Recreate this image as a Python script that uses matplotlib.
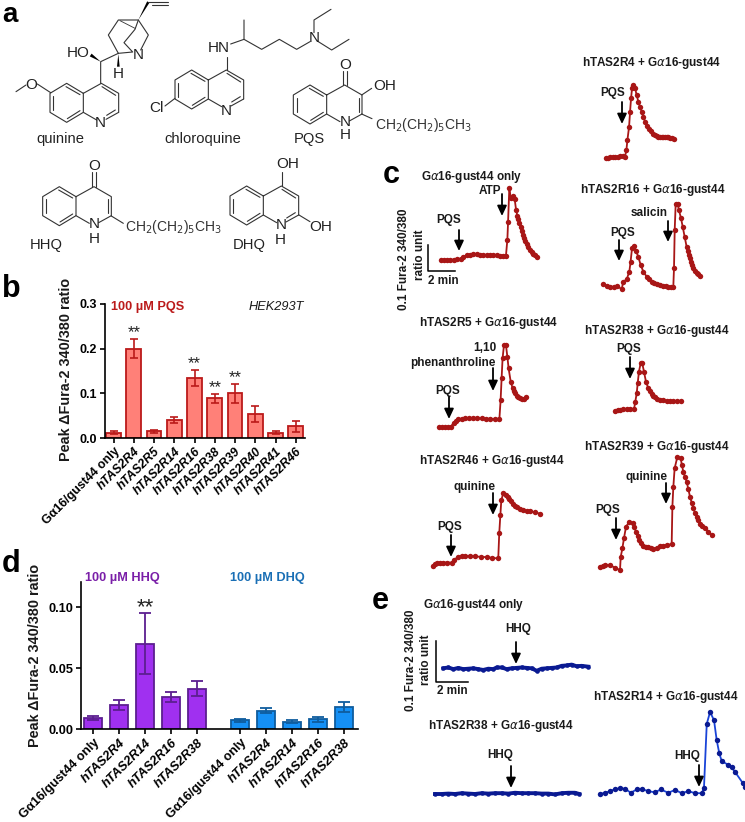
import matplotlib
matplotlib.use('Agg')
import matplotlib.pyplot as plt

plt.rcParams['font.family'] = ['Liberation Sans', 'DejaVu Sans']
plt.rcParams['mathtext.fontset'] = 'dejavusans'

W, H = 745, 822

# panel b
b_labels = ['G\u03b116/gust44 only', 'hTAS2R4', 'hTAS2R5', 'hTAS2R14', 'hTAS2R16',
            'hTAS2R38', 'hTAS2R39', 'hTAS2R40', 'hTAS2R41', 'hTAS2R46']
b_vals = [0.012, 0.200, 0.015, 0.040, 0.135, 0.089, 0.100, 0.054, 0.012, 0.026]
b_errs = [0.003, 0.022, 0.003, 0.006, 0.018, 0.010, 0.022, 0.018, 0.003, 0.012]
b_stars = ['', '**', '', '', '**', '**', '**', '', '', '']

# panel d
d_labels = ['G\u03b116/gust44 only', 'hTAS2R4', 'hTAS2R14', 'hTAS2R16', 'hTAS2R38']
hhq_vals = [0.009, 0.0195, 0.070, 0.026, 0.033]
hhq_errs = [0.002, 0.004, 0.025, 0.004, 0.006]
dhq_vals = [0.007, 0.015, 0.006, 0.008, 0.018]
dhq_errs = [0.001, 0.002, 0.001, 0.002, 0.004]

# panel c traces: time in min, ratio relative to first point
only_t = [0, .2, .4, .65, .9, 1.15, 1.43, 1.6, 1.88, 2.1, 2.31, 2.55, 2.79, 3.0, 3.26, 3.5, 3.74, 4.0, 4.21, 4.45, 4.64,
          4.74, 4.79, 4.88, 4.98, 5.12, 5.26, 5.36, 5.45, 5.52, 5.6, 5.68, 5.76, 5.85, 5.93, 6.02, 6.12, 6.24, 6.36, 6.48, 6.6, 6.74, 6.88]
only_r = [0, 0, 0, .001, .001, .002, .003, .012, .019, .021, .022, .022, .021, .02, .019, .019, .018, .018, .017, .017, .017,
          .078, .145, .277, .238, .247, .235, .194, .171, .157, .142, .126, .11, .097, .085, .074, .063, .051, .04, .032, .024, .018, .012]

r4_t = [0, .15, .31, .5, .67, .85, 1.02, 1.2, 1.38, 1.48, 1.55, 1.67, 1.74, 1.81, 1.88, 1.98, 2.1, 2.21, 2.33, 2.45, 2.57,
        2.69, 2.81, 2.93, 3.07, 3.21, 3.4, 3.52, 3.64, 3.76, 3.88, 4.0, 4.12, 4.24, 4.36, 4.48, 4.6, 4.74, 4.88]
r4_r = [0, .001, .003, .004, .005, .005, .006, .006, .005, .031, .069, .12, .178, .229, .268, .281, .268, .242, .217, .197, .178,
        .159, .14, .123, .113, .103, .092, .088, .085, .082, .079, .08, .081, .081, .081, .079, .077, .075, .074]

r16_t = [0, .24, .48, .79, 1.0, 1.31, 1.43, 1.67, 1.86, 1.95, 2.05, 2.19, 2.33, 2.5, 2.67, 2.86, 3.1, 3.28, 3.45, 3.63, 3.81, 4.05, 4.29, 4.46, 4.64, 4.82, 5.0,
         5.05, 5.1, 5.17, 5.31, 5.4, 5.55, 5.67, 5.81, 5.95, 6.02, 6.1, 6.17, 6.24, 6.33, 6.43, 6.55, 6.67, 6.78, 6.9]
r16_r = [0, -.006, -.012, -.01, -.006, -.019, .01, .019, .049, .087, .138, .147, .129, .106, .074, .049, .029, .019, .01, .005, 0, -.003, -.005, -.007, -.009, -.01, -.01,
         .062, .209, .309, .309, .286, .254, .222, .183, .145, .129, .113, .1, .087, .074, .062, .053, .045, .038, .032]

r5_t = [0, .2, .4, .6, .81, 1.05, 1.2, 1.36, 1.6, 1.83, 2.13, 2.43, 2.72, 3.02, 3.32, 3.62, 3.95, 4.29, 4.38, 4.45, 4.52, 4.62, 4.76,
        4.86, 4.95, 5.1, 5.24, 5.32, 5.4, 5.52, 5.64, 5.76, 5.88, 6.02, 6.17]
r5_r = [0, 0, 0, .001, .001, .017, .024, .029, .031, .033, .034, .035, .034, .033, .032, .031, .03, .029, .104, .187, .264, .315, .315,
        .271, .226, .174, .149, .138, .129, .121, .114, .11, .108, .109, .114]

r38_t = [0, .18, .36, .6, .83, 1.1, 1.36, 1.45, 1.55, 1.62, 1.71, 1.83, 1.95, 2.07, 2.21, 2.38, 2.5, 2.62, 2.74, 2.86, 3.03, 3.21, 3.45, 3.69, 3.93, 4.17, 4.43, 4.69]
r38_r = [0, .002, .004, .005, .006, .006, .006, .035, .067, .105, .15, .182, .182, .15, .112, .086, .074, .064, .057, .051, .046, .042, .04, .038, .037, .037, .037, .037]

r46_t = [0, .14, .29, .5, .71, 1.0, 1.31, 1.48, 1.79, 2.02, 2.26, 2.62, 2.98, 3.4, 3.81, 4.22, 4.64, 4.71, 4.79, 4.86, 5.0, 5.19, 5.31, 5.43, 5.57, 5.71, 5.85, 6.0, 6.2, 6.43, 6.66, 6.9, 7.26, 7.62]
r46_r = [0, .005, .009, .011, .012, .012, .012, .022, .035, .037, .038, .037, .036, .034, .033, .03, .028, .124, .195, .253, .278, .272, .265, .256, .247, .237, .23, .224, .219, .214, .212, .21, .205, .2]

r39_t = [0, .18, .36, .71, 1.07, 1.43, 1.48, 1.6, 1.71, 1.86, 2.1, 2.33, 2.45, 2.57, 2.69, 2.81, 2.95, 3.1, 3.27, 3.45, 3.63, 3.81, 4.05, 4.29, 4.52, 4.76, 5.12,
         5.17, 5.24, 5.33, 5.52, 5.76, 5.85, 5.95, 6.07, 6.19, 6.31, 6.43, 6.55, 6.67, 6.78, 6.9, 7.02, 7.14, 7.32, 7.5, 7.74, 7.98]
r39_r = [0, .003, .006, .006, -.004, -.013, .038, .071, .109, .154, .173, .167, .151, .135, .119, .103, .092, .081, .077, .074, .071, .068, .073, .079, .081, .083, .087,
         .231, .308, .378, .421, .417, .391, .365, .346, .327, .298, .269, .246, .224, .208, .192, .178, .164, .155, .147, .134, .122]

# panel e traces
e_only_t = [0, .3, .61, .91, 1.21, 1.52, 1.82, 2.12, 2.42, 2.73, 3.03, 3.23, 3.54, 3.84, 4.14, 4.44, 4.75, 5.05, 5.35, 5.66, 5.96, 6.26, 6.57, 6.87, 7.17, 7.47, 7.78, 8.08, 8.38, 8.79]
e_only_r = [0, .002, -.002, .001, -.002, -.001, 0, -.002, -.004, -.001, -.002, .002, .002, -.002, 0, .001, .002, .001, 0, -.006, -.001, 0, .001, .002, .006, .007, .009, .005, .006, .004]

e_r38_t = [0, .4, .81, 1.21, 1.62, 2.02, 2.42, 2.83, 3.23, 3.64, 4.04, 4.44, 4.85, 5.25, 5.66, 6.06, 6.46, 6.87, 7.27, 7.68, 8.08, 8.48, 8.75]
e_r38_r = [0, 0, .001, 0, .002, .001, 0, .002, .001, .002, .002, .001, .003, .002, .002, .002, .001, .001, -.001, .002, .003, .003, 0]

e_r14_t = [0, .3, .61, .91, 1.21, 1.52, 1.86, 2.22, 2.53, 2.93, 3.33, 3.68, 4.14, 4.55, 4.95, 5.35, 5.76, 6.16, 6.3,
           6.47, 6.67, 6.91, 7.07, 7.23, 7.38, 7.78, 7.98, 8.18, 8.65, 8.8]
e_r14_r = [0, .003, .007, .012, .014, .013, .003, .011, .012, .007, .004, .011, .003, .01, .002, .007, .002, .002, .014,
           .171, .2, .18, .132, .099, .08, .071, .065, .054, .027, .018]

DRED = '#a81616'
NAVY = '#0a1a92'
BRIGHT = '#1a44d8'


def px_axes(x0, y_bottom, x1, y_top):
    return fig.add_axes([x0 / W, 1 - y_bottom / H, (x1 - x0) / W, (y_bottom - y_top) / H])


def bar_axes(ax, ylim, yticks, fmt, lw, tick_fs):
    ax.set_ylim(*ylim)
    ax.set_yticks(yticks)
    ax.set_yticklabels([fmt % v for v in yticks], fontsize=tick_fs, fontweight='bold')
    ax.spines['top'].set_visible(False)
    ax.spines['right'].set_visible(False)
    ax.spines['left'].set_linewidth(lw)
    ax.spines['bottom'].set_linewidth(lw)
    ax.tick_params(width=lw, length=3.5, pad=2)
    ax.patch.set_alpha(0)


def x_labels(ax, xs, labels, fs):
    ax.set_xticks(xs)
    ax.set_xticklabels(labels, rotation=45, ha='right', rotation_mode='anchor', fontsize=fs, fontweight='bold')
    for t in ax.get_xticklabels():
        if t.get_text().startswith('hTAS'):
            t.set_fontstyle('italic')


def trace(x0, y0, t, r, px_min, px_unit, mcolor, lcolor, ms=3.9, lw=1.3):
    # every trace gets its own little axes so the time/ratio scale is shared
    ax = px_axes(x0, y0 + 30, x0 + 190, y0 - 130)
    ax.set_xlim(0, 190 / px_min)
    ax.set_ylim(-30 / px_unit, 130 / px_unit)
    ax.axis('off')
    ax.plot(t, r, '-', color=lcolor, lw=lw, clip_on=False, zorder=2)
    ax.plot(t, r, 'o', color=mcolor, ms=ms, mew=0, clip_on=False, zorder=3)


fig = plt.figure(figsize=(W / 100, H / 100), dpi=100)
fig.patch.set_facecolor('white')

# b ------------------------------------------------------------
b_step = 20.25
ax_b = px_axes(105, 438, 305, 304)
b_x = list(range(len(b_vals)))
ax_b.bar(b_x, b_vals, width=0.72, color='#ff8078', edgecolor='#bb1a1a', linewidth=1.3)
ax_b.errorbar(b_x, b_vals, yerr=b_errs, fmt='none', ecolor='#bb1a1a', elinewidth=1.2, capsize=3.2, capthick=1.2)
ax_b.set_xlim(-8.5 / b_step, 191.5 / b_step)
bar_axes(ax_b, (0, 0.3), [0, 0.1, 0.2, 0.3], '%.1f', 1.2, 9)
x_labels(ax_b, b_x, b_labels, 8.9)
for x, v, e, s in zip(b_x, b_vals, b_errs, b_stars):
    if s:
        ax_b.annotate(s, (x, v + e), xytext=(0, -1), textcoords='offset points', ha='center', va='bottom',
                      fontsize=12, color='#222222')

# d ------------------------------------------------------------
d_step = 26
d_gap = 0.65
ax_d = px_axes(81, 729, 358, 582)
hhq_x = list(range(len(hhq_vals)))
dhq_x = [len(hhq_vals) + d_gap + i for i in range(len(dhq_vals))]
ax_d.bar(hhq_x, hhq_vals, width=0.7, color='#a030f0', edgecolor='#5c1f90', linewidth=1.3)
ax_d.errorbar(hhq_x, hhq_vals, yerr=hhq_errs, fmt='none', ecolor='#5c1f90', elinewidth=1.3, capsize=4.3, capthick=1.3)
ax_d.bar(dhq_x, dhq_vals, width=0.7, color='#1590f5', edgecolor='#0f5d9e', linewidth=1.3)
ax_d.errorbar(dhq_x, dhq_vals, yerr=dhq_errs, fmt='none', ecolor='#0f5d9e', elinewidth=1.3, capsize=4.3, capthick=1.3)
ax_d.set_xlim(-12.3 / d_step, 264.7 / d_step)
bar_axes(ax_d, (0, 0.1205), [0, 0.05, 0.10], '%.2f', 1.2, 9.2)
x_labels(ax_d, hhq_x + dhq_x, d_labels + d_labels, 9.3)
ax_d.annotate('**', (2, hhq_vals[2] + hhq_errs[2]), xytext=(0, -4), textcoords='offset points', ha='center', va='bottom',
              fontsize=16, color='#222222')

# overlay in image pixels for the chemistry, captions, arrows
ov = fig.add_axes([0, 0, 1, 1], zorder=5)
ov.set_xlim(0, W)
ov.set_ylim(H, 0)
ov.axis('off')


def label(x, y, s, fs=8.5, weight='bold', color='#1a1a1a', **kw):
    ov.text(x, y, s, fontsize=fs, fontweight=weight, color=color, ha=kw.pop('ha', 'center'), va=kw.pop('va', 'center'), **kw)


def bond(*pts, lw=0.8, color='#333333'):
    ov.plot([p[0] / 3 for p in pts], [p[1] / 3 for p in pts], color=color, lw=lw, solid_capstyle='round')


def wedge(a, b, w=5):
    dx, dy = b[0] - a[0], b[1] - a[1]
    n = (dx * dx + dy * dy) ** 0.5
    ox, oy = -dy / n * w, dx / n * w
    ov.fill([a[0] / 3, (b[0] + ox) / 3, (b[0] - ox) / 3], [a[1] / 3, (b[1] + oy) / 3, (b[1] - oy) / 3], color='black', lw=0)


def atom(zx, zy, s, fs=11):
    ov.text(zx / 3, zy / 3, s, fontsize=fs, color='#222222', ha='center', va='center')


def quinoline(tx, ty, n_double=True):
    # tx, ty: top vertex of the benzene ring, in 3x zoom units
    tl = (tx - 50, ty + 30)
    bl = (tx - 50, ty + 87)
    bt = (tx, ty + 117)
    br = (tx + 50, ty + 87)
    tr = (tx + 50, ty + 30)
    rt = (tx + 104, ty)
    ru = (tx + 156, ty + 30)
    rd = (tx + 156, ty + 87)
    bond(tr, (tx, ty), tl, bl, bt, br, tr, rt, ru, rd)
    bond((tx - 40, ty + 38), (tx - 40, ty + 80))
    bond((tx - 2, ty + 10), (tx + 40, ty + 34))
    bond((tx + 2, ty + 106), (tx + 40, ty + 82))
    bond(br, (tx + 90, ty + 110))
    bond(rd, (tx + 118, ty + 108))
    if n_double:
        bond((tx + 106, ty + 10), (tx + 147, ty + 36))
        bond((tx + 146, ty + 80), (tx + 120, ty + 96))
    else:
        bond((tx + 146, ty + 38), (tx + 146, ty + 80))


# quinine
quinoline(200, 250)
bond((302, 250), (302, 185), (355, 160))
wedge((302, 185), (272, 165))
wedge((355, 162), (355, 200), w=-4)
bond((355, 160), (325, 105), (355, 60), (415, 60), (445, 105), (422, 150))
bond((355, 160), (398, 156), (372, 128), (405, 88), (415, 60))
bond((360, 62), (405, 85), lw=0.6)
wedge((415, 60), (445, 6), w=-4)
bond((445, 5), (505, 5))
bond((455, 16), (505, 16))
bond((112, 252), (152, 278))
bond((78, 255), (48, 275))
atom(95, 255, 'O')
atom(235, 160, 'HO')
atom(415, 165, 'N')
atom(355, 222, 'H')
atom(302, 368, 'N')
# chloroquine
quinoline(575, 210)
bond((680, 210), (680, 170))
bond((692, 132), (732, 118), (732, 60))
bond((732, 118), (785, 148), (838, 118), (890, 148), (930, 125))
bond((942, 98), (942, 60), (993, 28))
bond((955, 125), (995, 150), (1047, 118))
bond((495, 318), (525, 295))
atom(657, 145, 'HN')
atom(942, 115, 'N')
atom(470, 325, 'Cl')
atom(680, 332, 'N')
# PQS
quinoline(930, 255, n_double=False)
bond((1030, 255), (1030, 212))
bond((1040, 255), (1040, 212))
bond((1085, 285), (1115, 265))
bond((1085, 342), (1116, 356))
atom(1035, 195, 'O')
atom(1035, 367, 'N')
atom(1035, 405, 'H')
atom(1155, 258, 'OH')
ov.text(375, 125, r'CH$_2$(CH$_2$)$_5$CH$_3$', fontsize=10, color='#333333', ha='left', va='center')
# HHQ
quinoline(178, 560, n_double=False)
bond((277, 560), (277, 516))
bond((287, 560), (287, 516))
bond((334, 648), (370, 670))
atom(282, 497, 'O')
atom(282, 672, 'N')
atom(282, 717, 'H')
ov.text(125, 227, r'CH$_2$(CH$_2$)$_5$CH$_3$', fontsize=10, color='#333333', ha='left', va='center')
# DHQ
quinoline(740, 558, n_double=True)
bond((845, 558), (845, 515))
bond((897, 645), (930, 665))
atom(862, 492, 'OH')
atom(843, 674, 'N')
atom(842, 720, 'H')
atom(963, 680, 'OH')

for zx, zy, s in [(180, 417, 'quinine'), (608, 417, 'chloroquine'), (928, 417, 'PQS'), (140, 735, 'HHQ'), (748, 735, 'DHQ')]:
    atom(zx, zy, s, fs=10.6)

ov.text(2, 21.5, 'a', fontsize=20, fontweight='bold', color='black', ha='left', va='baseline')
for x, y, s in [(2, 297, 'b'), (383, 183, 'c'), (2, 572, 'd'), (372, 609, 'e')]:
    ov.text(x, y, s, fontsize=22, fontweight='bold', color='black', ha='left', va='baseline')

# chart captions
label(66, 369, 'Peak \u0394Fura-2 340/380 ratio', fs=10.4, rotation=90)
label(35, 655, 'Peak \u0394Fura-2 340/380 ratio', fs=10.4, rotation=90)
label(148, 307, '100 \u00b5M PQS', fs=9.2, color='#bb1a1a')
label(276, 307, 'HEK293T', fs=9.2, weight='normal', style='italic')
label(122, 578, '100 \u00b5M HHQ', fs=9.2, color='#7a1fa8')
label(267, 578, '100 \u00b5M DHQ', fs=9.2, color='#1a6fb5')

# trace titles
GA = 'G$\\alpha$16-gust44'
for x, y, s in [(472, 177, GA + ' only'), (652, 63, 'hTAS2R4 + ' + GA), (653, 190, 'hTAS2R16 + ' + GA),
                (489, 323, 'hTAS2R5 + ' + GA), (657, 331, 'hTAS2R38 + ' + GA), (492, 461, 'hTAS2R46 + ' + GA),
                (657, 447, 'hTAS2R39 + ' + GA), (474, 605, GA + ' only'), (666, 697, 'hTAS2R14 + ' + GA),
                (501, 726, 'hTAS2R38 + ' + GA)]:
    label(x, y, s)

# stimulus labels and arrows
for x, y, s in [(449, 220, 'PQS'), (490, 191, 'ATP'), (613, 93, 'PQS'), (649, 213, 'salicin'), (623, 233, 'PQS'),
                (485, 348, '1,10'), (453, 363, 'phenanthroline'), (448, 391, 'PQS'), (629, 349, 'PQS'),
                (474, 487, 'quinine'), (450, 527, 'PQS'), (647, 477, 'quinine'), (608, 510, 'PQS'),
                (518, 629, 'HHQ'), (500, 755, 'HHQ'), (687, 756, 'HHQ')]:
    label(x, y, s)

for x, y0, y1 in [(459, 230, 251), (502, 194, 216), (622, 102, 124), (668, 221, 242), (619, 240, 261),
                  (493, 368, 391), (449, 397, 419), (630, 357, 379), (493, 493, 515), (451, 535, 557),
                  (666, 483, 504), (616, 518, 540), (516, 642, 664), (511, 766, 788), (699, 765, 787)]:
    ov.annotate('', xy=(x, y1), xytext=(x, y0),
                arrowprops=dict(arrowstyle='-|>,head_length=0.6,head_width=0.28', color='black', lw=1.3,
                                shrinkA=0, shrinkB=0))

# scale bars
ov.plot([428, 428, 455], [245, 271, 271], color='black', lw=1.1)
label(443, 281, '2 min')
label(420, 255, 'ratio unit', rotation=90)
label(404, 259, '0.1 Fura-2 340/380', rotation=90)
ov.plot([436, 436, 468], [641, 682, 682], color='black', lw=1.1)
label(452, 691, '2 min')
label(426, 660, 'ratio unit', rotation=90)
label(411, 660, '0.1 Fura-2 340/380', rotation=90)

# traces
C_MIN, C_UNIT = 14, 260
E_MIN, E_UNIT = 16.5, 410
trace(441, 260, only_t, only_r, C_MIN, C_UNIT, DRED, DRED)
trace(605.7, 158, r4_t, r4_r, C_MIN, C_UNIT, DRED, DRED)
trace(603.3, 284.3, r16_t, r16_r, C_MIN, C_UNIT, DRED, DRED)
trace(439.3, 427, r5_t, r5_r, C_MIN, C_UNIT, DRED, DRED)
trace(615, 410.7, r38_t, r38_r, C_MIN, C_UNIT, DRED, DRED)
trace(433.3, 565.7, r46_t, r46_r, C_MIN, C_UNIT, DRED, DRED)
trace(600, 566.7, r39_t, r39_r, C_MIN, C_UNIT, DRED, DRED)
trace(443.3, 668.3, e_only_t, e_only_r, E_MIN, E_UNIT, NAVY, NAVY, ms=3.3, lw=2.8)
trace(435, 794, e_r38_t, e_r38_r, E_MIN, E_UNIT, NAVY, NAVY, ms=3.3, lw=2.8)
trace(600, 794, e_r14_t, e_r14_r, E_MIN, E_UNIT, NAVY, BRIGHT)

fig.savefig('out.png', dpi=100)
